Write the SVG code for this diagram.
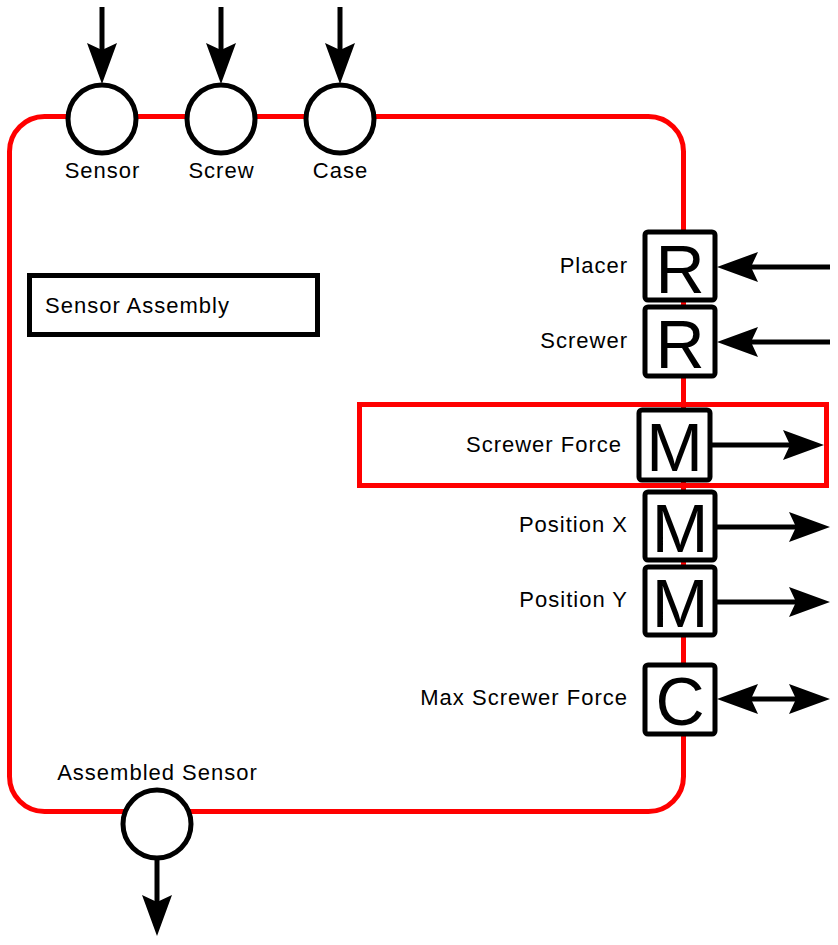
<svg xmlns="http://www.w3.org/2000/svg" width="838" height="945" viewBox="0 0 838 945">
<style>
text{font-family:"Liberation Sans",Arial,sans-serif;fill:#000}
.lbl{font-size:22px;letter-spacing:1px}
.big{font-size:68px;text-anchor:middle}
.port{fill:#fff;stroke:#000;stroke-width:5}
.box{fill:#fff;stroke:#000;stroke-width:5}
.red{fill:none;stroke:#ff0000;stroke-width:5}
.wire{stroke:#000;stroke-width:5;fill:none}
</style>
<defs>
<path id="ah" d="M0,0 L-41,-15 L-34,0 L-41,15 Z" fill="#000"/>
</defs>
<g id="container">
<rect class="red" x="9.5" y="116.5" width="674" height="695" rx="35"/>
</g>
<g id="highlight">
<rect class="red" x="359.5" y="404.5" width="467" height="81"/>
</g>
<g id="connectors">
<line class="wire" x1="102" y1="7" x2="102" y2="50"/>
<use href="#ah" transform="translate(102,84) rotate(90)"/>
<line class="wire" x1="221" y1="7" x2="221" y2="50"/>
<use href="#ah" transform="translate(221,84) rotate(90)"/>
<line class="wire" x1="340" y1="7" x2="340" y2="50"/>
<use href="#ah" transform="translate(340,84) rotate(90)"/>
<line class="wire" x1="830" y1="267" x2="750" y2="267"/>
<use href="#ah" transform="translate(717,267) rotate(180)"/>
<line class="wire" x1="830" y1="342" x2="750" y2="342"/>
<use href="#ah" transform="translate(717,342) rotate(180)"/>
<line class="wire" x1="712" y1="445" x2="792" y2="445"/>
<use href="#ah" transform="translate(824,445)"/>
<line class="wire" x1="717" y1="527" x2="798" y2="527"/>
<use href="#ah" transform="translate(830,527)"/>
<line class="wire" x1="717" y1="602" x2="798" y2="602"/>
<use href="#ah" transform="translate(830,602)"/>
<line class="wire" x1="750" y1="699" x2="798" y2="699"/>
<use href="#ah" transform="translate(717,699) rotate(180)"/>
<use href="#ah" transform="translate(830,699)"/>
<line class="wire" x1="157" y1="860" x2="157" y2="905"/>
<use href="#ah" transform="translate(157,936) rotate(90)"/>
</g>
<g id="sensor-port">
<circle class="port" cx="102" cy="119" r="34"/>
<text class="lbl" x="102.5" y="178" text-anchor="middle">Sensor</text>
</g>
<g id="screw-port">
<circle class="port" cx="221" cy="119" r="34"/>
<text class="lbl" x="221.5" y="178" text-anchor="middle">Screw</text>
</g>
<g id="case-port">
<circle class="port" cx="340" cy="119" r="34"/>
<text class="lbl" x="340.5" y="178" text-anchor="middle">Case</text>
</g>
<g id="title">
<rect x="29.5" y="275.5" width="288" height="59" fill="#fff" stroke="#000" stroke-width="5"/>
<text class="lbl" x="45" y="313">Sensor Assembly</text>
</g>
<g id="placer">
<rect class="box" x="645" y="232" width="70" height="68" rx="3"/>
<text class="big" x="680" y="293">R</text>
<text class="lbl" x="628" y="273" text-anchor="end">Placer</text>
</g>
<g id="screwer">
<rect class="box" x="645" y="307" width="70" height="69" rx="3"/>
<text class="big" x="680" y="368">R</text>
<text class="lbl" x="628" y="348" text-anchor="end">Screwer</text>
</g>
<g id="screwer-force">
<rect class="box" x="639" y="410" width="71" height="70" rx="3"/>
<text class="big" x="674.5" y="471">M</text>
<text class="lbl" x="622" y="452" text-anchor="end">Screwer Force</text>
</g>
<g id="position-x">
<rect class="box" x="645" y="492" width="70" height="68" rx="3"/>
<text class="big" x="680" y="552">M</text>
<text class="lbl" x="628" y="532" text-anchor="end">Position X</text>
</g>
<g id="position-y">
<rect class="box" x="645" y="567" width="70" height="68" rx="3"/>
<text class="big" x="680" y="627">M</text>
<text class="lbl" x="628" y="607" text-anchor="end">Position Y</text>
</g>
<g id="max-screwer-force">
<rect class="box" x="645" y="665" width="70" height="69" rx="3"/>
<text class="big" x="680" y="725">C</text>
<text class="lbl" x="628" y="705" text-anchor="end">Max Screwer Force</text>
</g>
<g id="assembled-sensor">
<circle class="port" cx="157" cy="824" r="34"/>
<text class="lbl" x="157.5" y="780" text-anchor="middle">Assembled Sensor</text>
</g>
</svg>
